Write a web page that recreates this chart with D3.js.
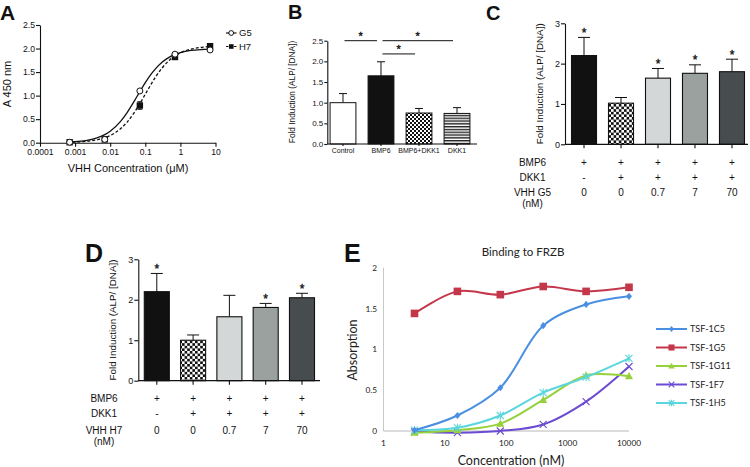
<!DOCTYPE html>
<html><head><meta charset="utf-8">
<script src="https://cdn.jsdelivr.net/npm/d3@7"></script>
<style>
body{margin:0;background:#fff}
svg{display:block}
text{font-family:"Liberation Sans",Arial,sans-serif;fill:#111}
.e text{font-family:Lato,"Open Sans",sans-serif;fill:#222}
.star{fill:#111;stroke:#111;stroke-width:0.35}
</style>
</head><body>
<svg id="c" width="750" height="467"></svg>
<script>
// ---------- Panel A data ----------
const concA = [0.0007, 0.007, 0.07, 0.7, 7];
const g5A = [0.01, 0.07, 1.10, 1.88, 1.97];
const g5AErr = [0.01, 0.01, 0.03, 0.02, 0.02];
const h7A = [0.01, 0.07, 0.79, 1.82, 2.05];
const h7AErr = [0.01, 0.02, 0.08, 0.03, 0.02];
const fitConcA = [0.0006,0.001,0.002,0.004,0.007,0.01,0.02,0.03,0.05,0.07,0.1,0.15,0.2,0.3,0.5,0.7,1,2,4,7];
const g5Fit = [0.013,0.022,0.046,0.097,0.172,0.245,0.46,0.636,0.90,1.085,1.274,1.465,1.58,1.709,1.823,1.874,1.913,1.959,1.98,1.989];
const h7Fit = [0.007,0.013,0.028,0.058,0.105,0.152,0.30,0.433,0.655,0.83,1.03,1.256,1.405,1.586,1.761,1.843,1.908,1.986,2.025,2.041];
const xTicksA = [0.0001, 0.001, 0.01, 0.1, 1, 10];
const xTickLabelsA = ["0.0001", "0.001", "0.01", "0.1", "1", "10"];
const yTicksA = [0, 0.5, 1.0, 1.5, 2.0, 2.5];
const seriesA = ["G5", "H7"];

// ---------- Panel B data ----------
const catsB = ["Control", "BMP6", "BMP6+DKK1", "DKK1"];
const valsB = [1.00, 1.65, 0.75, 0.74];
const errB = [0.22, 0.34, 0.11, 0.14];
const sigB = [["Control", "BMP6", 2.5], ["BMP6", "DKK1", 2.5], ["BMP6", "BMP6+DKK1", 2.18]];
const yTicksB = [0, 0.5, 1.0, 1.5, 2.0, 2.5];

// ---------- Panel C / D data ----------
const rowNames = ["BMP6", "DKK1"];
const bmp6Row = ["+", "+", "+", "+", "+"];
const dkk1Row = ["-", "+", "+", "+", "+"];
const vhhDose = ["0", "0", "0.7", "7", "70"];
const catsCD = ["c1", "c2", "c3", "c4", "c5"];
const valsC = [2.20, 1.02, 1.64, 1.76, 1.80];
const errC = [0.45, 0.14, 0.24, 0.21, 0.31];
const starC = [true, false, true, true, true];
const valsD = [2.20, 1.00, 1.58, 1.81, 2.05];
const errD = [0.45, 0.13, 0.53, 0.10, 0.11];
const starD = [true, false, false, true, true];
const yTicksCD = [0, 1, 2, 3];

// ---------- Panel E data ----------
const concE = [3.2, 16, 80, 400, 2000, 10000];
const namesE = ["TSF-1C5", "TSF-1G5", "TSF-1G11", "TSF-1F7", "TSF-1H5"];
const v1C5 = [0.01, 0.19, 0.53, 1.29, 1.55, 1.65];
const v1G5 = [1.44, 1.71, 1.67, 1.77, 1.71, 1.76];
const v1G11 = [-0.02, 0.01, 0.09, 0.38, 0.68, 0.67];
const v1F7 = [-0.01, -0.02, 0.00, 0.08, 0.36, 0.79];
const v1H5 = [0.01, 0.04, 0.19, 0.47, 0.66, 0.89];
const colorsE = ["#4a8fe2", "#c4374b", "#96d13c", "#6b4bd2", "#5ad6dc"];
const xTicksE = [1, 10, 100, 1000, 10000];
const yTicksE = [0, 0.5, 1, 1.5, 2];

const svg = d3.select("#c");
const defs = svg.append("defs");

function checker(id, s) {
  const p = defs.append("pattern").attr("id", id).attr("patternUnits", "userSpaceOnUse")
    .attr("width", 2 * s).attr("height", 2 * s);
  p.append("rect").attr("width", 2 * s).attr("height", 2 * s).attr("fill", "#fff");
  p.append("rect").attr("width", s).attr("height", s).attr("fill", "#111");
  p.append("rect").attr("x", s).attr("y", s).attr("width", s).attr("height", s).attr("fill", "#111");
}
checker("chkB", 2);
checker("chkC", 2.6);
(function () {
  const p = defs.append("pattern").attr("id", "strB").attr("patternUnits", "userSpaceOnUse")
    .attr("width", 4).attr("height", 2.8);
  p.append("rect").attr("width", 4).attr("height", 2.8).attr("fill", "#fff");
  p.append("rect").attr("width", 4).attr("height", 1.4).attr("fill", "#222");
})();

function styleAxis(g, fs) {
  g.selectAll("path").attr("stroke", "#111").attr("stroke-width", 1.1);
  g.selectAll("line").attr("stroke", "#111").attr("stroke-width", 1.1);
  g.selectAll("text").attr("font-size", fs).attr("fill", "#111")
    .attr("font-family", '"Liberation Sans",Arial,sans-serif');
}
function panelLabel(t, x, y, fs) {
  svg.append("text").attr("x", x).attr("y", y).attr("font-size", fs).attr("font-weight", "bold").text(t);
}
function star(g, x, y, fs) {
  g.append("text").attr("class", "star").attr("x", x).attr("y", y).attr("text-anchor", "middle").attr("font-size", fs).text("*");
}

// ================= Panel A =================
{
  const g = svg.append("g");
  const x = d3.scaleLog().domain([0.0001, 10]).range([40, 215.5]);
  const y = d3.scaleLinear().domain([0, 2.5]).range([142.7, 25]);
  const ax = g.append("g").attr("transform", "translate(0,142.7)")
    .call(d3.axisBottom(x).tickValues(xTicksA).tickFormat((d, i) => xTickLabelsA[i]).tickSize(4).tickSizeOuter(0).tickPadding(2));
  styleAxis(ax, 8.6);
  const ay = g.append("g").attr("transform", "translate(40,0)")
    .call(d3.axisLeft(y).tickValues(yTicksA).tickFormat(d3.format(".1f")).tickSize(4).tickSizeOuter(0).tickPadding(1));
  styleAxis(ay, 8.6);
  g.append("text").attr("x", 128).attr("y", 172).attr("text-anchor", "middle").attr("font-size", 11)
    .text("VHH Concentration (\u03bcM)");
  g.append("text").attr("transform", "translate(10.5,84) rotate(-90)").attr("text-anchor", "middle").attr("font-size", 11)
    .text("A 450 nm");
  const line = d3.line().x(d => x(d[0])).y(d => y(d[1])).curve(d3.curveMonotoneX);
  g.append("path").attr("d", line(fitConcA.map((c, i) => [c, g5Fit[i]])))
    .attr("fill", "none").attr("stroke", "#111").attr("stroke-width", 1.3);
  g.append("path").attr("d", line(fitConcA.map((c, i) => [c, h7Fit[i]])))
    .attr("fill", "none").attr("stroke", "#111").attr("stroke-width", 1.3).attr("stroke-dasharray", "3,2");
  [[g5A, g5AErr], [h7A, h7AErr]].forEach(([v, e]) => {
    concA.forEach((c, i) => {
      g.append("line").attr("x1", x(c)).attr("x2", x(c)).attr("y1", y(v[i] - e[i])).attr("y2", y(v[i] + e[i]))
        .attr("stroke", "#111").attr("stroke-width", 1);
      [v[i] - e[i], v[i] + e[i]].forEach(t => g.append("line").attr("x1", x(c) - 2.5).attr("x2", x(c) + 2.5)
        .attr("y1", y(t)).attr("y2", y(t)).attr("stroke", "#111").attr("stroke-width", 1));
    });
  });
  concA.forEach((c, i) => {
    g.append("rect").attr("x", x(c) - 3.2).attr("y", y(h7A[i]) - 3.2).attr("width", 6.4).attr("height", 6.4).attr("fill", "#111");
  });
  concA.forEach((c, i) => {
    g.append("circle").attr("cx", x(c)).attr("cy", y(g5A[i])).attr("r", 3).attr("fill", "#fff")
      .attr("stroke", "#111").attr("stroke-width", 1);
  });
  seriesA.forEach((s, i) => {
    const ly = 33 + i * 13.5;
    g.append("line").attr("x1", 226).attr("x2", 236.5).attr("y1", ly).attr("y2", ly).attr("stroke", "#111")
      .attr("stroke-width", 1.2).attr("stroke-dasharray", i ? "2.5,1.5" : null);
    if (i === 0) g.append("circle").attr("cx", 231.2).attr("cy", ly).attr("r", 2.4).attr("fill", "#fff").attr("stroke", "#111");
    else g.append("rect").attr("x", 229).attr("y", ly - 2.3).attr("width", 4.6).attr("height", 4.6).attr("fill", "#111");
    g.append("text").attr("x", 239).attr("y", ly + 3.4).attr("font-size", 9.5).text(s);
  });
  panelLabel("A", 0, 20, 21);
}

// ================= Panel B =================
{
  const g = svg.append("g");
  const x = d3.scaleBand().domain(catsB).range([327.3, 472.7]).paddingInner(0.32).paddingOuter(0.073);
  const y = d3.scaleLinear().domain([0, 2.5]).range([144, 40.7]);
  const fills = ["#fff", "#111", "url(#chkB)", "url(#strB)"];
  catsB.forEach((c, i) => {
    const cx = x(c) + x.bandwidth() / 2, top = y(valsB[i] + errB[i]);
    g.append("line").attr("x1", cx).attr("x2", cx).attr("y1", y(valsB[i])).attr("y2", top).attr("stroke", "#111").attr("stroke-width", 1);
    g.append("line").attr("x1", cx - 4).attr("x2", cx + 4).attr("y1", top).attr("y2", top).attr("stroke", "#111").attr("stroke-width", 1);
    g.append("rect").attr("x", x(c)).attr("y", y(valsB[i])).attr("width", x.bandwidth()).attr("height", y(0) - y(valsB[i]))
      .attr("fill", fills[i]).attr("stroke", "#111").attr("stroke-width", 1);
  });
  const ax = g.append("g").attr("transform", "translate(0,144)")
    .call(d3.axisBottom(x).tickSize(2).tickSizeOuter(0).tickPadding(2));
  ax.select(".domain").remove();
  styleAxis(ax, 7);
  g.append("line").attr("x1", 327.3).attr("x2", 477).attr("y1", 144).attr("y2", 144).attr("stroke", "#111").attr("stroke-width", 1.1);
  const ay = g.append("g").attr("transform", "translate(327.3,0)")
    .call(d3.axisLeft(y).tickValues(yTicksB).tickFormat(d3.format(".1f")).tickSize(3).tickSizeOuter(0).tickPadding(1));
  styleAxis(ay, 8);
  g.append("text").attr("transform", "translate(295,92) rotate(-90)").attr("text-anchor", "middle").attr("font-size", 8.3)
    .text("Fold Induction (ALP/ [DNA])");
  sigB.forEach(([a, b, lv]) => {
    const x1 = x(a) + x.bandwidth() / 2 + 1.5, x2 = x(b) + x.bandwidth() / 2 - 4;
    g.append("line").attr("x1", x1).attr("x2", x2).attr("y1", y(lv)).attr("y2", y(lv)).attr("stroke", "#111").attr("stroke-width", 1);
    star(g, (x1 + x2) / 2, y(lv) - 0.5, 11);
  });
  panelLabel("B", 288, 18.5, 20);
}

// ================= Panels C and D =================
function barPanel(vals, errs, stars, dose, doseName, o) {
  const g = svg.append("g");
  const x = d3.scaleBand().domain(catsCD).range([o.x0, o.x1]).paddingInner(o.pi).paddingOuter(o.po);
  const y = d3.scaleLinear().domain([0, 3]).range([o.yb, o.yt]);
  const fills = ["#111", "url(#chkC)", "#d3d7d7", "#9ba19f", "#474d4e"];
  catsCD.forEach((c, i) => {
    const cx = x(c) + x.bandwidth() / 2, top = y(vals[i] + errs[i]);
    g.append("line").attr("x1", cx).attr("x2", cx).attr("y1", y(vals[i])).attr("y2", top).attr("stroke", "#111").attr("stroke-width", 1);
    g.append("line").attr("x1", cx - 6).attr("x2", cx + 6).attr("y1", top).attr("y2", top).attr("stroke", "#111").attr("stroke-width", 1);
    g.append("rect").attr("x", x(c)).attr("y", y(vals[i])).attr("width", x.bandwidth()).attr("height", y(0) - y(vals[i]))
      .attr("fill", fills[i]).attr("stroke", "#111").attr("stroke-width", 1.1);
    if (stars[i]) star(g, cx, top - 0.5, 12);
  });
  const ax = g.append("g").attr("transform", `translate(0,${o.yb})`)
    .call(d3.axisBottom(x).tickSize(4).tickSizeOuter(0).tickFormat(""));
  ax.select(".domain").remove();
  styleAxis(ax, 9);
  g.append("line").attr("x1", o.x0).attr("x2", o.xe).attr("y1", o.yb).attr("y2", o.yb).attr("stroke", "#111").attr("stroke-width", 1.2);
  const ay = g.append("g").attr("transform", `translate(${o.x0},0)`)
    .call(d3.axisLeft(y).tickValues(yTicksCD).tickFormat(d3.format("d")).tickSize(4).tickSizeOuter(0).tickPadding(1));
  styleAxis(ay, 9);
  g.append("text").attr("transform", `translate(${o.x0 - 22},${(o.yb + o.yt) / 2}) rotate(-90)`).attr("text-anchor", "middle")
    .attr("font-size", 9.8).text("Fold Induction (ALP/ [DNA])");
  const rows = [bmp6Row, dkk1Row, dose];
  const names = [rowNames[0], rowNames[1], doseName];
  rows.forEach((r, j) => {
    const ry = o.rows[j];
    g.append("text").attr("x", o.lx).attr("y", ry + 3.5).attr("text-anchor", "middle").attr("font-size", 10).text(names[j]);
    r.forEach((t, i) => g.append("text").attr("x", x(catsCD[i]) + x.bandwidth() / 2).attr("y", ry + 3.5)
      .attr("text-anchor", "middle").attr("font-size", 10).text(t));
  });
  g.append("text").attr("x", o.lx).attr("y", o.rows[3] + 3.5).attr("text-anchor", "middle").attr("font-size", 10).text("(nM)");
}
barPanel(valsC, errC, starC, vhhDose, "VHH G5",
  { x0: 565, x1: 751, xe: 748, pi: 0.324, po: 0.176, yb: 144.3, yt: 23.3, lx: 532.5, rows: [162.7, 177.5, 192.7, 203.5] });
barPanel(valsD, errD, starD, vhhDose, "VHH H7",
  { x0: 138.3, x1: 320.5, xe: 320, pi: 0.31, po: 0.165, yb: 380.7, yt: 259.3, lx: 104, rows: [398.3, 413.3, 430, 441.7] });
panelLabel("C", 486, 20, 20);
panelLabel("D", 85, 262, 25);

// ================= Panel E =================
{
  const g = svg.append("g").attr("class", "e");
  const x = d3.scaleLog().domain([1, 10000]).range([383.5, 629]);
  const y = d3.scaleLinear().domain([0, 2]).range([431, 267.7]);
  g.append("line").attr("x1", 383.5).attr("x2", 383.5).attr("y1", 267.7).attr("y2", 431).attr("stroke", "#c8c8c8");
  g.append("line").attr("x1", 383.5).attr("x2", 629).attr("y1", 431).attr("y2", 431).attr("stroke", "#b8b8b8");
  xTicksE.forEach(t => g.append("text").attr("x", x(t)).attr("y", 446).attr("text-anchor", "middle")
    .attr("font-size", 8.3).text(d3.format(",d")(t).replace(/,/g, "")));
  yTicksE.forEach(t => g.append("text").attr("x", 377).attr("y", y(t) + 3).attr("text-anchor", "end")
    .attr("font-size", 8.3).text(t));
  g.append("text").attr("x", 511).attr("y", 465).attr("text-anchor", "middle").attr("font-size", 12.5).text("Concentration (nM)");
  g.append("text").attr("transform", "translate(357,350) rotate(-90)").attr("text-anchor", "middle").attr("font-size", 12.5).text("Absorption");
  g.append("text").attr("x", 523).attr("y", 256).attr("text-anchor", "middle").attr("font-size", 11.5).text("Binding to FRZB");

  const data = [v1C5, v1G5, v1G11, v1F7, v1H5];
  const line = d3.line().x(d => x(d[0])).y(d => y(d[1])).curve(d3.curveCatmullRom.alpha(0.5));
  function marker(sel, k, cx, cy, col, s) {
    if (k === 0) sel.append("path").attr("d", `M${cx},${cy - 3.6*s}L${cx + 3*s},${cy}L${cx},${cy + 3.6*s}L${cx - 3*s},${cy}Z`).attr("fill", col);
    else if (k === 1) sel.append("rect").attr("x", cx - 3.8*s).attr("y", cy - 3.8*s).attr("width", 7.6*s).attr("height", 7.6*s).attr("fill", col);
    else if (k === 2) sel.append("path").attr("d", `M${cx},${cy - 4.2*s}L${cx + 4*s},${cy + 3*s}L${cx - 4*s},${cy + 3*s}Z`).attr("fill", col);
    else if (k === 3) sel.append("path").attr("d", `M${cx - 3.5*s},${cy - 3.5*s}L${cx + 3.5*s},${cy + 3.5*s}M${cx + 3.5*s},${cy - 3.5*s}L${cx - 3.5*s},${cy + 3.5*s}`)
      .attr("stroke", col).attr("stroke-width", 1.1).attr("fill", "none");
    else sel.append("path").attr("d", `M${cx - 3.5*s},${cy - 3.5*s}L${cx + 3.5*s},${cy + 3.5*s}M${cx + 3.5*s},${cy - 3.5*s}L${cx - 3.5*s},${cy + 3.5*s}M${cx},${cy - 4*s}L${cx},${cy + 4*s}`)
      .attr("stroke", col).attr("stroke-width", 1.1).attr("fill", "none");
  }
  const order = [3, 2, 4, 0, 1];
  order.forEach(k => {
    const pts = concE.map((c, i) => [c, data[k][i]]);
    g.append("path").attr("d", line(pts)).attr("fill", "none").attr("stroke", colorsE[k]).attr("stroke-width", 2);
    pts.forEach(p => marker(g, k, x(p[0]), y(p[1]), colorsE[k], 1));
  });
  namesE.forEach((n, k) => {
    const ly = 329 + k * 18.5;
    g.append("line").attr("x1", 656).attr("x2", 687).attr("y1", ly).attr("y2", ly).attr("stroke", colorsE[k]).attr("stroke-width", 2);
    marker(g, k, 671.5, ly, colorsE[k], 0.8);
    g.append("text").attr("x", 690).attr("y", ly + 3.2).attr("font-size", 9).text(n);
  });
}
panelLabel("E", 344, 262, 25);
</script>
</body></html>
